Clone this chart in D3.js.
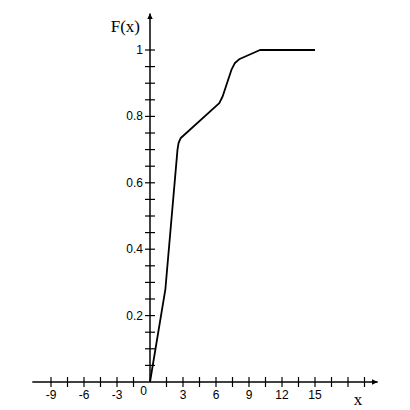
<!DOCTYPE html>
<html>
<head>
<meta charset="utf-8">
<script src="https://cdn.jsdelivr.net/npm/d3@7"></script>
<style>
  body { margin: 0; background: #fff; }
  svg { display: block; }
</style>
</head>
<body>
<script>
// values
var xs = [0, 1.4, 2.5, 2.6, 2.8, 6.3, 6.6, 7.0, 7.4, 7.7, 8.1, 10, 15];
var Fs = [0, 0.28, 0.70, 0.72, 0.735, 0.84, 0.86, 0.90, 0.94, 0.96, 0.972, 1, 1];
var xLabels = [-9, -6, -3, 3, 6, 9, 12, 15];
var yLabels = [0.2, 0.4, 0.6, 0.8, 1];

var width = 410, height = 410;

var svg = d3.select("body").append("svg")
  .attr("width", width)
  .attr("height", height);

var x = d3.scaleLinear().domain([0, 15]).range([150, 315]);
var y = d3.scaleLinear().domain([0, 1]).range([382, 50]);

// arrow heads
var defs = svg.append("defs");
defs.append("marker")
  .attr("id", "arrow")
  .attr("viewBox", "0 0 10 10")
  .attr("refX", 10).attr("refY", 5)
  .attr("markerWidth", 6).attr("markerHeight", 6)
  .attr("markerUnits", "userSpaceOnUse")
  .attr("orient", "auto")
  .append("path")
  .attr("d", "M0,0L10,5L0,10z")
  .attr("fill", "#000");

// x axis
svg.append("line")
  .attr("x1", x(-10.7)).attr("x2", x(20.7))
  .attr("y1", y(0)).attr("y2", y(0))
  .attr("stroke", "#000").attr("stroke-width", 1.5)
  .attr("marker-end", "url(#arrow)");

// y axis
svg.append("line")
  .attr("x1", x(0)).attr("x2", x(0))
  .attr("y1", y(0)).attr("y2", y(1.11))
  .attr("stroke", "#000").attr("stroke-width", 1.5)
  .attr("marker-end", "url(#arrow)");

// x ticks every 1.5
var xTicks = d3.range(-9, 19.6, 1.5).filter(function(d){ return d !== 0; });
svg.selectAll(".xtick")
  .data(xTicks)
  .enter().append("line")
  .attr("class", "xtick")
  .attr("x1", function(d){ return x(d); })
  .attr("x2", function(d){ return x(d); })
  .attr("y1", y(0) - 5).attr("y2", y(0) + 5)
  .attr("stroke", "#000").attr("stroke-width", 1.2);

// y ticks every 0.05
var yTicks = d3.range(1, 21).map(function(i){ return i * 0.05; });
svg.selectAll(".ytick")
  .data(yTicks)
  .enter().append("line")
  .attr("class", "ytick")
  .attr("x1", x(0) - 5).attr("x2", x(0) + 5)
  .attr("y1", function(d){ return y(d); })
  .attr("y2", function(d){ return y(d); })
  .attr("stroke", "#000").attr("stroke-width", 1.2);

// tick labels
svg.selectAll(".xlab")
  .data(xLabels)
  .enter().append("text")
  .attr("x", function(d){ return x(d); })
  .attr("y", y(0) + 17)
  .attr("text-anchor", "middle")
  .attr("font-family", "Liberation Sans, Arial, sans-serif")
  .attr("font-size", 12)
  .text(function(d){ return d; });

svg.selectAll(".ylab")
  .data(yLabels)
  .enter().append("text")
  .attr("x", x(0) - 7)
  .attr("y", function(d){ return y(d) + 4; })
  .attr("text-anchor", "end")
  .attr("font-family", "Liberation Sans, Arial, sans-serif")
  .attr("font-size", 12)
  .text(function(d){ return d; });

svg.append("text")
  .attr("x", x(0) - 3).attr("y", y(0) + 13)
  .attr("text-anchor", "end")
  .attr("font-family", "Liberation Sans, Arial, sans-serif")
  .attr("font-size", 12)
  .text("0");

// axis titles
svg.append("text")
  .attr("x", 140).attr("y", 32)
  .attr("text-anchor", "end")
  .attr("font-family", "Liberation Serif, Times New Roman, serif")
  .attr("font-size", 17)
  .text("F(x)");

svg.append("text")
  .attr("x", 358).attr("y", 405)
  .attr("text-anchor", "middle")
  .attr("font-family", "Liberation Serif, Times New Roman, serif")
  .attr("font-size", 17)
  .text("x");

// the distribution curve
var pts = xs.map(function(d, i){ return [d, Fs[i]]; });
var line = d3.line()
  .x(function(d){ return x(d[0]); })
  .y(function(d){ return y(d[1]); });

svg.append("path")
  .datum(pts)
  .attr("d", line)
  .attr("fill", "none")
  .attr("stroke", "#000")
  .attr("stroke-width", 1.8)
  .attr("stroke-linejoin", "round");
</script>
</body>
</html>
